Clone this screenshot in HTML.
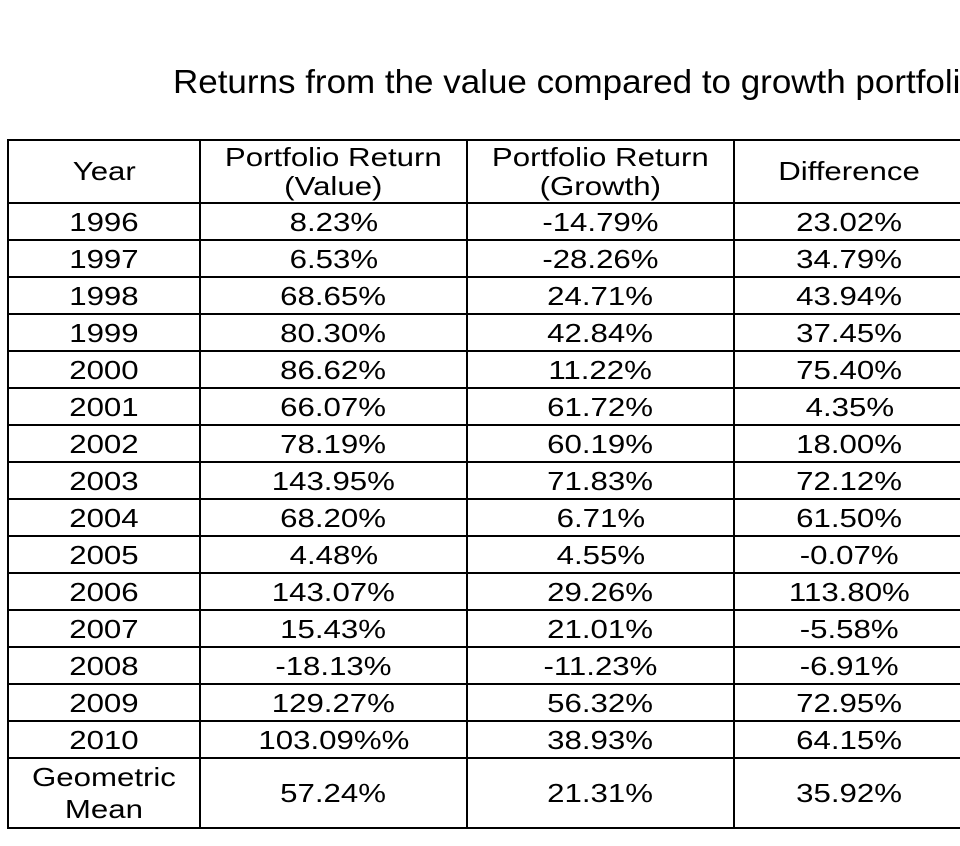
<!DOCTYPE html>
<html><head><meta charset="utf-8"><style>
body{margin:0;width:960px;height:846px;overflow:hidden;background:#fff;font-family:"Liberation Sans",Arial,sans-serif;color:#000;position:relative}
#title{position:absolute;left:173px;top:63px;font-size:33px;white-space:nowrap;transform:scaleX(1.06);transform-origin:0 0}
table{position:absolute;left:7px;top:139px;border-collapse:collapse;table-layout:fixed;width:957px}
td{border:2px solid #000;text-align:center;font-size:26px;padding:0;line-height:26px;height:35px;overflow:hidden;white-space:nowrap}
td span{display:inline-block;transform:scaleX(1.2)}
tr.h td{height:61px;line-height:29px}
tr.g td{height:68px;line-height:32px}
</style></head><body>
<div id="title">Returns from the value compared to growth portfolios</div>
<table>
<colgroup><col style="width:192px"><col style="width:267px"><col style="width:267px"><col style="width:231px"></colgroup>
<tbody id="tb">
<tr class="h"><td><span>Year</span></td><td><span>Portfolio Return<br>(Value)</span></td><td><span>Portfolio Return<br>(Growth)</span></td><td><span>Difference</span></td></tr>
</tbody></table>
<script>
const years=["1996","1997","1998","1999","2000","2001","2002","2003","2004","2005","2006","2007","2008","2009","2010"];
const valueRet=["8.23%","6.53%","68.65%","80.30%","86.62%","66.07%","78.19%","143.95%","68.20%","4.48%","143.07%","15.43%","-18.13%","129.27%","103.09%%"];
const growthRet=["-14.79%","-28.26%","24.71%","42.84%","11.22%","61.72%","60.19%","71.83%","6.71%","4.55%","29.26%","21.01%","-11.23%","56.32%","38.93%"];
const diffRet=["23.02%","34.79%","43.94%","37.45%","75.40%","4.35%","18.00%","72.12%","61.50%","-0.07%","113.80%","-5.58%","-6.91%","72.95%","64.15%"];
const meanRow=["Geometric<br>Mean","57.24%","21.31%","35.92%"];
const tb=document.getElementById('tb');
function addRow(cells,cls,name){
  const tr=document.createElement('tr');
  if(cls)tr.className=cls;
  
  
  cells.forEach(function(c){
    const td=document.createElement('td');
    td.innerHTML='<span>'+c+'</span>';
    
    
    tr.appendChild(td);
  });
  tb.appendChild(tr);
}
years.forEach(function(y,i){addRow([y,valueRet[i],growthRet[i],diffRet[i]],'','row-'+y);});
addRow(meanRow,'g','geometric-mean-row');
</script>
</body></html>
